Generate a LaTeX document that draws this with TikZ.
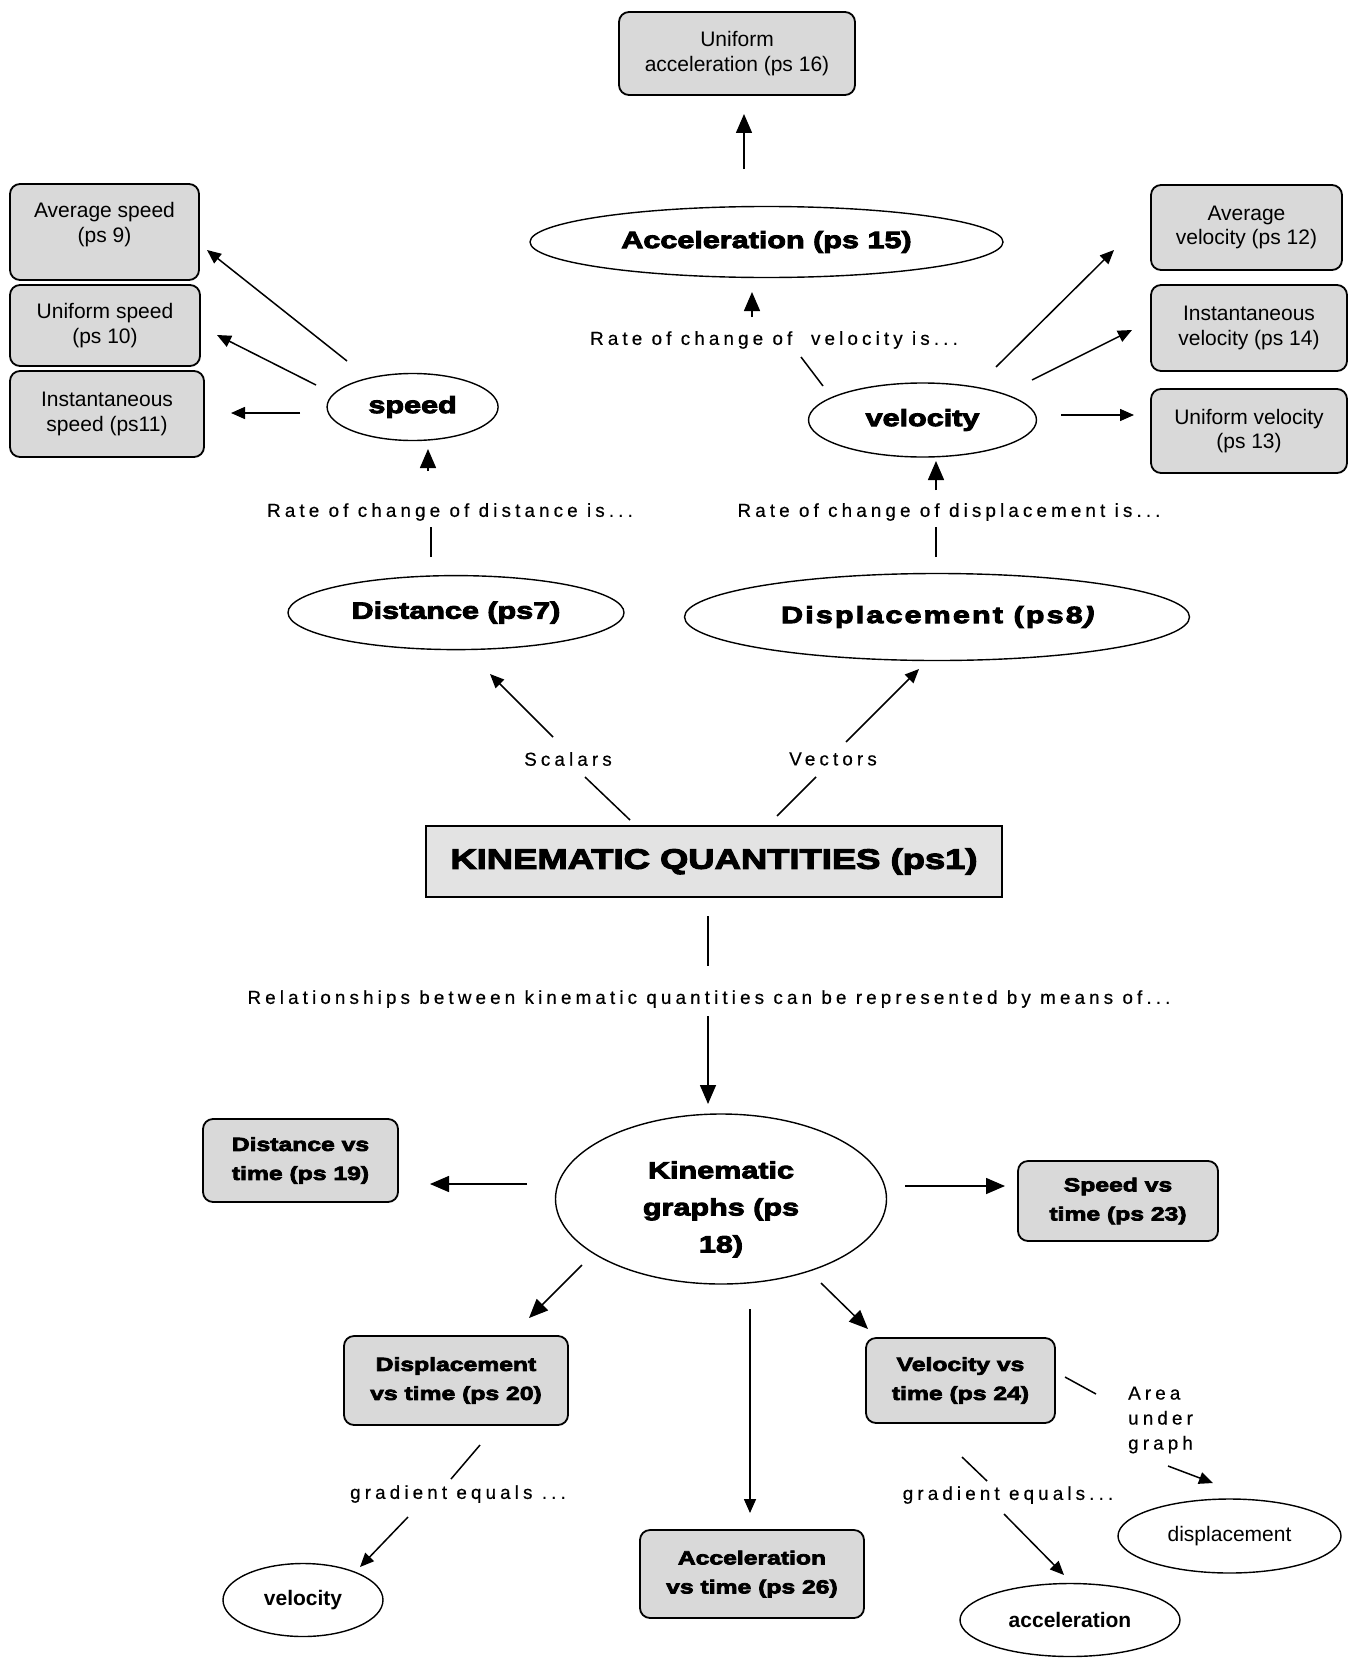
\documentclass[tikz,border=0pt]{standalone}
\usepackage{fontspec}
\setmainfont{Liberation Sans}
\newfontfamily\heavyfont{Liberation Sans Bold}[FakeStretch=1.3,FakeBold=4]
\newfontfamily\lblfont{Liberation Sans}[LetterSpace=22,FakeBold=0.5]
\usetikzlibrary{shapes.geometric,arrows.meta}
\definecolor{boxgray}{gray}{0.85}
\definecolor{kqgray}{gray}{0.89}
\begin{document}
\begin{tikzpicture}[x=1pt,y=-1pt,
  rbox/.style={draw, line width=1.8pt, rounded corners=10pt, fill=boxgray, align=center, inner sep=0pt, font=\fontsize{21}{24.5}\selectfont},
  hbox/.style={rbox, font=\heavyfont\fontsize{19}{29}\selectfont},
  ell/.style={ellipse, draw, line width=1.4pt, fill=white, inner sep=0pt, align=center},
  hell/.style={ell, font=\heavyfont\fontsize{23.5}{37}\selectfont},
  lbl/.style={inner sep=0pt, font=\lblfont\fontsize{18.8}{25}\selectfont},
  ln/.style={line width=1.5pt},
  arr/.style={ln, -{Triangle[length=14pt,width=12pt]}},
  arrbig/.style={ln, -{Triangle[length=19pt,width=16pt]}}]
\fill[white] (0,0) rectangle (1348,1659);
\useasboundingbox (0,0) rectangle (1348,1659);

% ---------- nodes ----------
\node[rbox, minimum width=236pt, minimum height=83pt] (unifacc) at (737,53.5) {Uniform\\acceleration (ps 16)};
\node[hell, minimum width=473pt, minimum height=71pt] (acc15) at (766.5,242) {Acceleration (ps 15)};
\node[lbl] (lblvel) at (774,340) {Rate of change of\ \ velocity is...};
\node[hell, minimum width=228pt, minimum height=74pt] (vel) at (922.5,420) {velocity};
\node[rbox, minimum width=189pt, minimum height=96pt] (avgspeed) at (104.5,232) {\raisebox{7pt}[\height][\depth]{\begin{tabular}{@{}c@{}}Average speed\\(ps 9)\end{tabular}}};
\node[rbox, minimum width=190pt, minimum height=81pt] (unifspeed) at (105,325.5) {Uniform speed\\(ps 10)};
\node[rbox, minimum width=194pt, minimum height=86pt] (instspeed) at (107,414) {Instantaneous\\speed (ps11)};
\node[hell, minimum width=171pt, minimum height=67pt] (speed) at (412.6,407) {speed};
\node[rbox, minimum width=191pt, minimum height=85pt] (avgvel) at (1246.5,227.5) {Average\\velocity (ps 12)};
\node[rbox, minimum width=196pt, minimum height=86pt] (instvel) at (1249,328) {Instantaneous\\velocity (ps 14)};
\node[rbox, minimum width=196pt, minimum height=84pt] (unifvel) at (1249,431) {Uniform velocity\\(ps 13)};
\node[lbl] (lbldist) at (450,512) {Rate of change of distance is...};
\node[lbl] (lbldisp) at (949,512) {Rate of change of displacement is...};
\node[hell, minimum width=336pt, minimum height=74pt] (dist) at (456,612.6) {Distance (ps7)};
\node[hell, minimum width=505pt, minimum height=87pt] (disp) at (937,617) {\addfontfeature{LetterSpace=9}Displacement (ps8{\addfontfeature{FakeSlant=0.25})}};
\node[draw, line width=1.5pt, fill=kqgray, minimum width=576pt, minimum height=71pt, inner sep=0pt, font=\heavyfont\fontsize{28}{32}\selectfont] (kq) at (714,861.5) {KINEMATIC QUANTITIES (ps1)};
\node[lbl] (scalars) at (568,759) {Scalars};
\node[lbl] (vectors) at (833,759) {Vectors};
\node[lbl] (relat) at (709,999) {Relationships between kinematic quantities can be represented by means of...};
\node[hell, minimum width=331pt, minimum height=170pt] (kg) at (721,1199) {\raisebox{-9pt}[\height][\depth]{\begin{tabular}{@{}c@{}}Kinematic\\graphs (ps\\18)\end{tabular}}};
\node[hbox, minimum width=195pt, minimum height=83pt] (distvt) at (300.5,1160.5) {Distance vs\\time (ps 19)};
\node[hbox, minimum width=200pt, minimum height=80pt] (speedvt) at (1118,1201) {Speed vs\\time (ps 23)};
\node[hbox, minimum width=224pt, minimum height=89pt] (dispvt) at (456,1380.5) {Displacement\\vs time (ps 20)};
\node[hbox, minimum width=224pt, minimum height=88pt] (accvt) at (752,1574) {Acceleration\\vs time (ps 26)};
\node[hbox, minimum width=189pt, minimum height=85pt] (velvt) at (960.5,1380.5) {Velocity vs\\time (ps 24)};
\node[lbl, align=left, anchor=west] (area) at (1128,1420) {Area\\under\\graph};
\node[lbl] (gradL) at (458,1494) {gradient equals ...};
\node[lbl] (gradR) at (1008,1495) {gradient equals...};
\node[ell, minimum width=223pt, minimum height=74pt, font=\fontsize{21}{25}\selectfont] (dispE) at (1229.5,1536) {displacement};
\node[ell, minimum width=220pt, minimum height=73pt, font=\bfseries\fontsize{21}{25}\selectfont] (accE) at (1070,1620) {acceleration};
\node[ell, minimum width=160pt, minimum height=73pt, font=\bfseries\fontsize{21}{25}\selectfont] (velE) at (303,1600) {velocity};

% ---------- connector end points ----------
\coordinate (acc15-up) at (744,169);   \coordinate (unifacc-in) at (744,114);
\coordinate (lblvel-up) at (752,317);  \coordinate (acc15-in) at (752,292);
\coordinate (vel-lo) at (823,386);     \coordinate (lblvel-lo) at (801,357);
\coordinate (speed-o1) at (347,361);   \coordinate (avgspeed-in) at (207,250);
\coordinate (speed-o2) at (316,385);   \coordinate (unifspeed-in) at (217,335);
\coordinate (speed-o3) at (300,413);   \coordinate (instspeed-in) at (231,413);
\coordinate (lbldist-up) at (428,471); \coordinate (speed-in) at (428,449);
\coordinate (dist-up) at (431,557);    \coordinate (lbldist-lo) at (431,527);
\coordinate (disp-up) at (936,557);    \coordinate (lbldisp-lo) at (936,527);
\coordinate (lbldisp-up) at (936,490); \coordinate (vel-in) at (936,461);
\coordinate (vel-o1) at (996,367);     \coordinate (avgvel-in) at (1114,250);
\coordinate (vel-o2) at (1032,380);    \coordinate (instvel-in) at (1132,330);
\coordinate (vel-o3) at (1061,415);    \coordinate (unifvel-in) at (1134,415);
\coordinate (kq-o1) at (630,820);      \coordinate (scalars-lo) at (585,777);
\coordinate (scalars-up) at (553,737); \coordinate (dist-in) at (490,674);
\coordinate (kq-o2) at (777,816);      \coordinate (vectors-lo) at (816,777);
\coordinate (vectors-up) at (846,742); \coordinate (disp-in) at (919,669);
\coordinate (kq-o3) at (708,916);      \coordinate (relat-up) at (708,966);
\coordinate (relat-lo) at (708,1016);  \coordinate (kg-in) at (708,1104);
\coordinate (kg-o1) at (527,1184);     \coordinate (distvt-in) at (430,1184);
\coordinate (kg-o2) at (905,1186);     \coordinate (speedvt-in) at (1005,1186);
\coordinate (kg-o3) at (582,1265);     \coordinate (dispvt-in) at (529,1318);
\coordinate (kg-o4) at (750,1309);     \coordinate (accvt-in) at (750,1513);
\coordinate (kg-o5) at (821,1283);     \coordinate (velvt-in) at (868,1329);
\coordinate (dispvt-o) at (480,1445);  \coordinate (gradL-up) at (451,1479);
\coordinate (gradL-lo) at (408,1517);  \coordinate (velE-in) at (360,1567);
\coordinate (velvt-o1) at (962,1457);  \coordinate (gradR-up) at (987,1481);
\coordinate (gradR-lo) at (1004,1514); \coordinate (accE-in) at (1064,1575);
\coordinate (velvt-o2) at (1065,1377); \coordinate (area-in) at (1096,1394);
\coordinate (area-lo) at (1168,1466);  \coordinate (dispE-in) at (1213,1483);

% ---------- connectors ----------
\draw[arrbig] (acc15-up) -- (unifacc-in);
\draw[arrbig] (lblvel-up) -- (acc15-in);
\draw[ln] (vel-lo) -- (lblvel-lo);
\draw[arr] (speed-o1) -- (avgspeed-in);
\draw[arr] (speed-o2) -- (unifspeed-in);
\draw[arr] (speed-o3) -- (instspeed-in);
\draw[arrbig] (lbldist-up) -- (speed-in);
\draw[ln] (dist-up) -- (lbldist-lo);
\draw[ln] (disp-up) -- (lbldisp-lo);
\draw[arrbig] (lbldisp-up) -- (vel-in);
\draw[arr] (vel-o1) -- (avgvel-in);
\draw[arr] (vel-o2) -- (instvel-in);
\draw[arr] (vel-o3) -- (unifvel-in);
\draw[ln] (kq-o1) -- (scalars-lo);
\draw[arr] (scalars-up) -- (dist-in);
\draw[ln] (kq-o2) -- (vectors-lo);
\draw[arr] (vectors-up) -- (disp-in);
\draw[ln] (kq-o3) -- (relat-up);
\draw[arrbig] (relat-lo) -- (kg-in);
\draw[arrbig] (kg-o1) -- (distvt-in);
\draw[arrbig] (kg-o2) -- (speedvt-in);
\draw[arrbig] (kg-o3) -- (dispvt-in);
\draw[arr] (kg-o4) -- (accvt-in);
\draw[arrbig] (kg-o5) -- (velvt-in);
\draw[ln] (dispvt-o) -- (gradL-up);
\draw[arr] (gradL-lo) -- (velE-in);
\draw[ln] (velvt-o1) -- (gradR-up);
\draw[arr] (gradR-lo) -- (accE-in);
\draw[ln] (velvt-o2) -- (area-in);
\draw[arr] (area-lo) -- (dispE-in);
\end{tikzpicture}
\end{document}
